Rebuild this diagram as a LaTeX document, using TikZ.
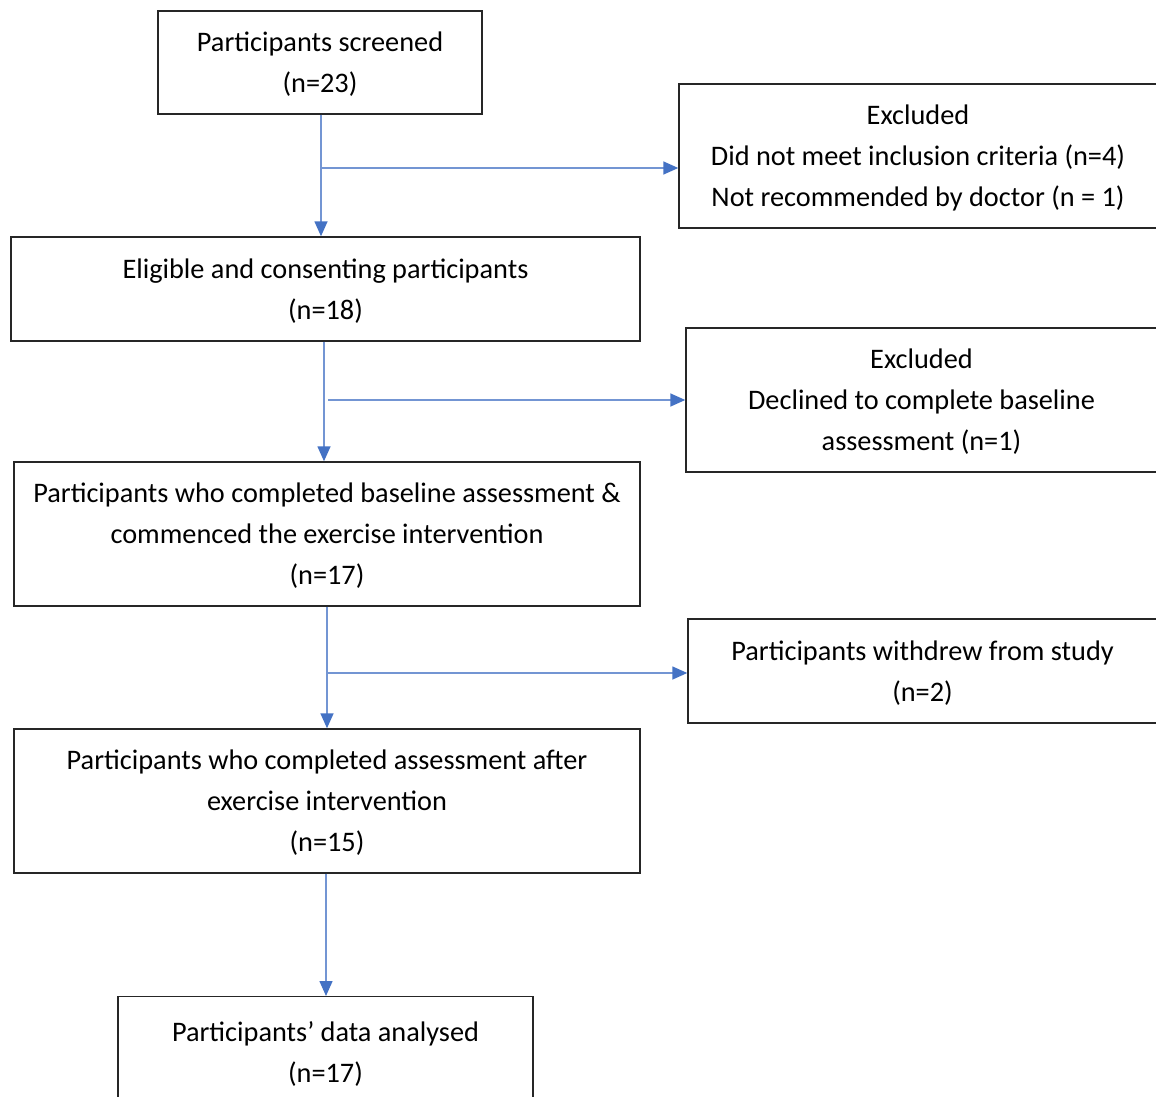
\documentclass[tikz,border=0pt]{standalone}
\usepackage{fontspec}
\setmainfont{Carlito}
\usetikzlibrary{arrows.meta}
\definecolor{flowblue}{HTML}{4472C4}
\tikzset{
  box/.style={draw=black!85, line width=1.4pt, inner sep=0pt, align=center,
    text depth=0pt, font=\fontsize{28.3}{41}\selectfont},
  flow/.style={draw=flowblue!75, line width=1.5pt,
    -{Triangle[length=15pt, width=13pt, color=flowblue]}}
}
\begin{document}
\begin{tikzpicture}[x=1pt, y=-1pt]
  \useasboundingbox (0,0) rectangle (1156,1097);
  \clip (0,0) rectangle (1156,1097);
  % main column
  \node[box, minimum width=324pt, minimum height=103pt] (screen) at (320,62.5)
    {Participants screened\\(n=23)};
  \node[box, minimum width=629pt, minimum height=104pt] (elig) at (325.5,289)
    {Eligible and consenting participants\\(n=18)};
  \node[box, minimum width=626pt, minimum height=144pt] (base) at (327,534)
    {Participants who completed baseline assessment \&\\commenced the exercise intervention\\(n=17)};
  \node[box, minimum width=626pt, minimum height=144pt] (after) at (327,801)
    {Participants who completed assessment after\\exercise intervention\\(n=15)};
  \node[box, minimum width=415pt, minimum height=110pt, anchor=north] (anal) at (325.5,996)
    {Participants' data analysed\\(n=17)};
  % side boxes
  \node[box, minimum width=478pt, minimum height=144pt] (excl1) at (918,156)
    {Excluded\\Did not meet inclusion criteria (n=4)\\Not recommended by doctor (n = 1)};
  \node[box, minimum width=471pt, minimum height=144pt] (excl2) at (921.5,400)
    {Excluded\\Declined to complete baseline\\assessment (n=1)};
  \node[box, minimum width=469pt, minimum height=104pt] (wdrw) at (922.5,671)
    {Participants withdrew from study\\(n=2)};
  % branch points
  \coordinate (b1) at (321,168);
  \coordinate (v2) at (324,400);
  \coordinate (b2) at (328,400);
  \coordinate (b3) at (327,673);
  \coordinate (v4) at (326,900);
  % connectors
  \draw[flow] (screen.south -| b1) -- (b1 |- elig.north);
  \draw[flow] (b1) -- (b1 -| excl1.west);
  \draw[flow] (elig.south -| v2) -- (v2 |- base.north);
  \draw[flow] (b2) -- (b2 -| excl2.west);
  \draw[flow] (base.south -| b3) -- (b3 |- after.north);
  \draw[flow] (b3) -- (b3 -| wdrw.west);
  \draw[flow] (after.south -| v4) -- (v4 |- anal.north);
\end{tikzpicture}
\end{document}
